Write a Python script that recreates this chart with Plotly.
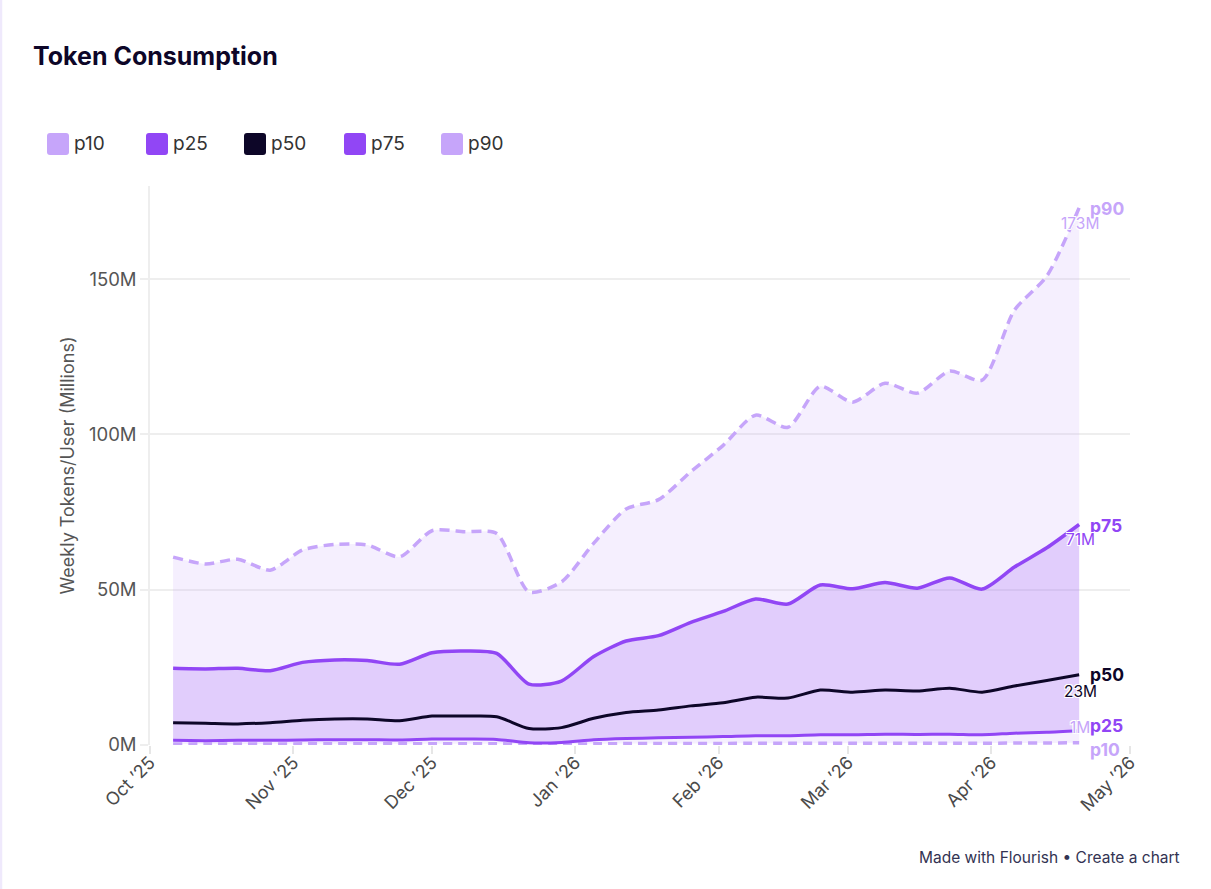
import plotly.graph_objects as go

# ---------------- DATA ----------------
dates = [
    "2025-10-06", "2025-10-13", "2025-10-20", "2025-10-27", "2025-11-03",
    "2025-11-10", "2025-11-17", "2025-11-24", "2025-12-01", "2025-12-08",
    "2025-12-15", "2025-12-22", "2025-12-29", "2026-01-05", "2026-01-12",
    "2026-01-19", "2026-01-26", "2026-02-02", "2026-02-09", "2026-02-16",
    "2026-02-23", "2026-03-02", "2026-03-09", "2026-03-16", "2026-03-23",
    "2026-03-30", "2026-04-06", "2026-04-13", "2026-04-20",
]
p10 = [0.35, 0.33, 0.35, 0.33, 0.37, 0.40, 0.40, 0.38, 0.42, 0.43,
       0.42, 0.20, 0.22, 0.38, 0.45, 0.48, 0.50, 0.52, 0.55, 0.55,
       0.58, 0.57, 0.60, 0.58, 0.60, 0.57, 0.62, 0.66, 0.70]
p25 = [1.5, 1.4, 1.5, 1.5, 1.6, 1.7, 1.7, 1.6, 1.9, 1.9,
       1.8, 0.7, 0.8, 1.7, 2.1, 2.3, 2.5, 2.7, 3.0, 3.0,
       3.3, 3.3, 3.5, 3.4, 3.5, 3.3, 3.8, 4.1, 4.6]
p50 = [7.2, 7.0, 6.8, 7.2, 8.0, 8.4, 8.4, 7.8, 9.3, 9.3,
       9.1, 5.3, 5.6, 8.6, 10.5, 11.3, 12.6, 13.6, 15.4, 15.1,
       17.7, 17.0, 17.7, 17.4, 18.3, 17.0, 19.0, 20.8, 22.6]
p75 = [24.7, 24.5, 24.7, 23.9, 26.6, 27.4, 27.2, 26.0, 29.7, 30.3,
       29.5, 19.6, 20.6, 28.5, 33.5, 35.2, 39.5, 43.0, 47.0, 45.4,
       51.5, 50.3, 52.3, 50.5, 53.8, 50.2, 57.3, 63.5, 71.0]
p90 = [60.5, 58.3, 59.8, 56.3, 62.8, 64.6, 64.4, 60.6, 69.0, 68.7,
       68.1, 49.3, 52.5, 65.0, 76.0, 79.0, 88.0, 96.5, 106.2, 102.3,
       115.5, 110.4, 116.5, 113.3, 120.4, 117.5, 140.0, 151.0, 173.0]

series_names = ["p10", "p25", "p50", "p75", "p90"]
series_vals = [p10, p25, p50, p75, p90]
value_labels = ["1M", "", "23M", "71M", "173M"]

month_ticks = ["2025-10-01", "2025-11-01", "2025-12-01", "2026-01-01",
               "2026-02-01", "2026-03-01", "2026-04-01", "2026-05-01"]
month_labels = ["Oct \u201925", "Nov \u201925", "Dec \u201925", "Jan \u201926",
                "Feb \u201926", "Mar \u201926", "Apr \u201926", "May \u201926"]
y_ticks = [0, 50, 100, 150]
y_labels = ["0M", "50M", "100M", "150M"]

# ---------------- STYLE ----------------
W, H = 1211, 889
L, R, T, B = 150, 81, 186, 144
PW, PH = W - L - R, H - T - B
FONT = "Inter"
LIGHT = "#c6a5fa"
MID = "#9146f5"
DARK = "#0d0628"
colors = [LIGHT, MID, DARK, MID, LIGHT]
dashes = ["9px,6px", None, None, None, "10px,6px"]
widths = [3.5, 3, 3, 3.5, 3.5]
SMOOTH = 0.7


def pxx(px):
    return (px - L) / PW


def pxy(py):
    return (H - B - py) / PH


fig = go.Figure()

# bands (fills) first
fig.add_trace(go.Scatter(x=dates, y=p10, mode="lines", line=dict(width=0, shape="spline", smoothing=SMOOTH),
                         showlegend=False, hoverinfo="skip"))
fig.add_trace(go.Scatter(x=dates, y=p90, mode="lines", line=dict(width=0, shape="spline", smoothing=SMOOTH),
                         fill="tonexty", fillcolor="rgba(198,165,250,0.18)", showlegend=False, hoverinfo="skip"))
fig.add_trace(go.Scatter(x=dates, y=p25, mode="lines", line=dict(width=0, shape="spline", smoothing=SMOOTH),
                         showlegend=False, hoverinfo="skip"))
fig.add_trace(go.Scatter(x=dates, y=p75, mode="lines", line=dict(width=0, shape="spline", smoothing=SMOOTH),
                         fill="tonexty", fillcolor="rgba(145,70,245,0.2)", showlegend=False, hoverinfo="skip"))

# lines
for name, vals, col, dsh, wd in zip(series_names, series_vals, colors, dashes, widths):
    ln = dict(color=col, width=wd, shape="spline", smoothing=SMOOTH)
    if dsh:
        ln["dash"] = dsh
    fig.add_trace(go.Scatter(x=dates, y=vals, mode="lines", name=name, line=ln, showlegend=False))

# end labels
name_shift = {"p10": -7, "p25": 5, "p50": 0, "p75": -1, "p90": -1}
val_shift = {"p10": 15, "p25": 0, "p50": -17, "p75": -15, "p90": -16}
halo = "1px 1px 0 #fff, -1px -1px 0 #fff, 1px -1px 0 #fff, -1px 1px 0 #fff, 0 1px 0 #fff, 0 -1px 0 #fff"
annotations = []
shapes = []
for name, vals, col, vlab in zip(series_names, series_vals, colors, value_labels):
    annotations.append(dict(x=dates[-1], y=vals[-1], xref="x", yref="y", text=f"<b>{name}</b>",
                            showarrow=False, xanchor="left", yanchor="middle", xshift=9,
                            yshift=name_shift[name], font=dict(family=FONT, size=17.5, color=col)))
    if vlab:
        annotations.append(dict(x=dates[-1], y=vals[-1], xref="x", yref="y", text=vlab,
                                showarrow=False, xanchor="center", yanchor="middle", xshift=1,
                                yshift=val_shift[name],
                                font=dict(family=FONT, size=15.5, color=col, shadow=halo)))

# manual legend
leg_sq_x = [47, 146, 244, 344, 441]
leg_txt_x = [72, 171, 269, 369, 466]
leg_y0, leg_y1 = 133, 155
r = 3
for name, col, sx, tx in zip(series_names, colors, leg_sq_x, leg_txt_x):
    x0, x1 = sx, sx + 22
    pts = (f"M {pxx(x0 + r)},{pxy(leg_y0)} L {pxx(x1 - r)},{pxy(leg_y0)} "
           f"Q {pxx(x1)},{pxy(leg_y0)} {pxx(x1)},{pxy(leg_y0 + r)} "
           f"L {pxx(x1)},{pxy(leg_y1 - r)} Q {pxx(x1)},{pxy(leg_y1)} {pxx(x1 - r)},{pxy(leg_y1)} "
           f"L {pxx(x0 + r)},{pxy(leg_y1)} Q {pxx(x0)},{pxy(leg_y1)} {pxx(x0)},{pxy(leg_y1 - r)} "
           f"L {pxx(x0)},{pxy(leg_y0 + r)} Q {pxx(x0)},{pxy(leg_y0)} {pxx(x0 + r)},{pxy(leg_y0)} Z")
    shapes.append(dict(type="path", xref="paper", yref="paper", path=pts,
                       fillcolor=col, line=dict(width=0)))
    annotations.append(dict(x=pxx(tx), y=pxy(144), xref="paper", yref="paper", text=name,
                            showarrow=False, xanchor="left", yanchor="middle",
                            font=dict(family=FONT, size=19, color="#333333")))

# card left border
shapes.append(dict(type="line", xref="paper", yref="paper", x0=pxx(1), x1=pxx(1),
                   y0=pxy(0), y1=pxy(H), line=dict(color="#efe9fc", width=2.5)))

# footer
annotations.append(dict(x=pxx(1182), y=pxy(857), xref="paper", yref="paper",
                        text="Made with Flourish \u2022 Create a chart", showarrow=False,
                        xanchor="right", yanchor="middle",
                        font=dict(family=FONT, size=15.5, color="#333352")))

fig.update_layout(
    width=W, height=H,
    margin=dict(l=L, r=R, t=T, b=B, autoexpand=False),
    paper_bgcolor="white", plot_bgcolor="white",
    title=dict(text="Token Consumption", xref="container", yref="container",
               x=33 / W, y=1 - 56 / H, xanchor="left", yanchor="middle",
               font=dict(family=FONT, size=25, color=DARK, weight=700)),
    showlegend=False,
    annotations=annotations,
    shapes=shapes,
    xaxis=dict(type="date", range=["2025-10-01", "2026-05-01"],
               tickvals=month_ticks, ticktext=month_labels, tickangle=-45,
               showgrid=False, zeroline=False, showline=False,
               ticks="outside", ticklen=8, tickcolor="#e6e6e6", tickwidth=1.5,
               ticklabelstandoff=-9,
               tickfont=dict(family=FONT, size=18, color="#4a4a4a")),
    yaxis=dict(range=[0, 180], tickvals=y_ticks, ticktext=y_labels,
               showgrid=True, gridcolor="#eeeeee", gridwidth=1.5,
               zeroline=False, showline=True, linecolor="#eeeeee", linewidth=1.5,
               ticks="outside", ticklen=8, tickcolor="#eeeeee", tickwidth=1.5,
               tickfont=dict(family=FONT, size=18.5, color="#555555"),
               title=dict(text="Weekly Tokens/User (Millions)", standoff=10,
                          font=dict(family=FONT, size=18, color="#555555"))),
)

fig.write_html("out.html")
